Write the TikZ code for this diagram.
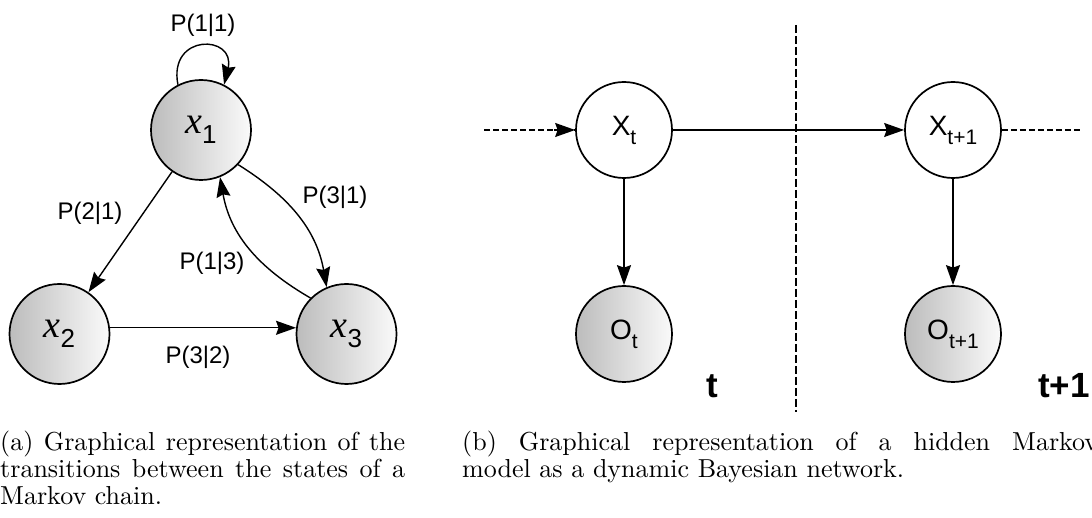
\documentclass[tikz,border=0pt]{standalone}
\usepackage{fontspec}
\setmainfont{lmroman10-regular.otf}
\newfontfamily\arialf{Liberation Sans}
\newfontfamily\timesf{Liberation Serif}
\usetikzlibrary{arrows.meta}
\definecolor{gdark}{RGB}{188,188,188}
\definecolor{glight}{RGB}{250,250,250}
\newcommand{\mclab}[1]{{\timesf\itshape\fontsize{38}{38}\selectfont x}\raisebox{-10pt}{\arialf\fontsize{26}{26}\selectfont #1}}
\newcommand{\hmmlab}[2]{{\arialf\fontsize{28}{28}\selectfont #1\raisebox{-9pt}{\fontsize{21}{21}\selectfont #2}}}
\tikzset{
  state/.style={circle, draw=black, line width=1.7pt, inner sep=0pt, minimum size=100pt, left color=gdark, right color=glight},
  hid/.style={circle, draw=black, line width=1.7pt, inner sep=0pt, minimum size=96pt, fill=white},
  obs/.style={circle, draw=black, line width=1.7pt, inner sep=0pt, minimum size=96pt, left color=gdark, right color=glight},
  arr/.style={-{Stealth[length=20pt,width=14pt,inset=2.5pt]}, line width=1.4pt},
  plab/.style={font=\arialf\fontsize{24}{24}\selectfont, inner sep=0pt},
  tlab/.style={font=\arialf\bfseries\fontsize{35}{35}\selectfont, inner sep=0pt, anchor=base},
  dsh/.style={line width=1.4pt, dash pattern=on 6pt off 3pt},
  capt/.style={anchor=base west, inner sep=0pt, font=\fontsize{26}{27}\selectfont}
}
\begin{document}
\begin{tikzpicture}[x=1pt,y=1pt]
\useasboundingbox (0,0) rectangle (1092,518);
% ---------- left: Markov chain ----------
\node[state] (x1) at (201,388) {\mclab{1}};
\node[state] (x2) at (59.5,184) {\mclab{2}};
\node[state] (x3) at (346.5,184) {\mclab{3}};
\draw[arr] (x1.117) .. controls +(-10,52) and +(12,50) .. (x1.63);
\draw[arr] (x1) -- (x2);
\draw[arr] (x2.7) -- (x3.173);
\draw[arr] (x1.-43) to[out=-32, in=100] (x3.113);
\draw[arr] (x3.135) to[out=150, in=-80] (x1.-68);
\node[plab] (p11) at (203,493) {P(1|1)};
\node[plab] (p21) at (90,305) {P(2|1)};
\node[plab] (p31) at (335,321) {P(3|1)};
\node[plab] (p13) at (212,255) {P(1|3)};
\node[plab] (p32) at (198,161) {P(3|2)};
% ---------- right: HMM as DBN ----------
\node[hid] (xt) at (624,388) {\hmmlab{X}{t}};
\node[hid] (xt1) at (953,388) {\hmmlab{X}{t+1}};
\node[obs] (ot) at (624,184) {\hmmlab{O}{t}};
\node[obs] (ot1) at (953,184) {\hmmlab{O}{t+1}};
\coordinate (inL) at (484,388);
\coordinate (outR) at (1080,388);
\coordinate (vtop) at (796,493);
\coordinate (vbot) at (796,106);
\draw[line width=1.4pt, dash pattern=on 8pt off 3pt] (vtop) -- (vbot);
\draw[dsh] (inL) -- (xt.west);
\draw[arr] (inL) ++(70,0) -- (xt.west);
\draw[arr] (xt) -- (xt1);
\draw[dsh] (xt1.east) -- (outR);
\draw[arr] (xt) -- (ot);
\draw[arr] (xt1) -- (ot1);
\node[tlab] (lt) at (712,120) {t};
\node[tlab] (lt1) at (1064,120) {t+1};
% ---------- captions ----------
\node[capt] (capa) at (0,67) {\parbox[t]{405pt}{\hyphenpenalty=10000 (a) Graphical representation of the\linebreak transitions between the states of a\linebreak Markov chain.}};
\node[capt] (capb) at (462,67) {\parbox[t]{636pt}{\hyphenpenalty=10000 (b) Graphical representation of a hidden Markov\linebreak model as a dynamic Bayesian network.}};
\end{tikzpicture}
\end{document}
